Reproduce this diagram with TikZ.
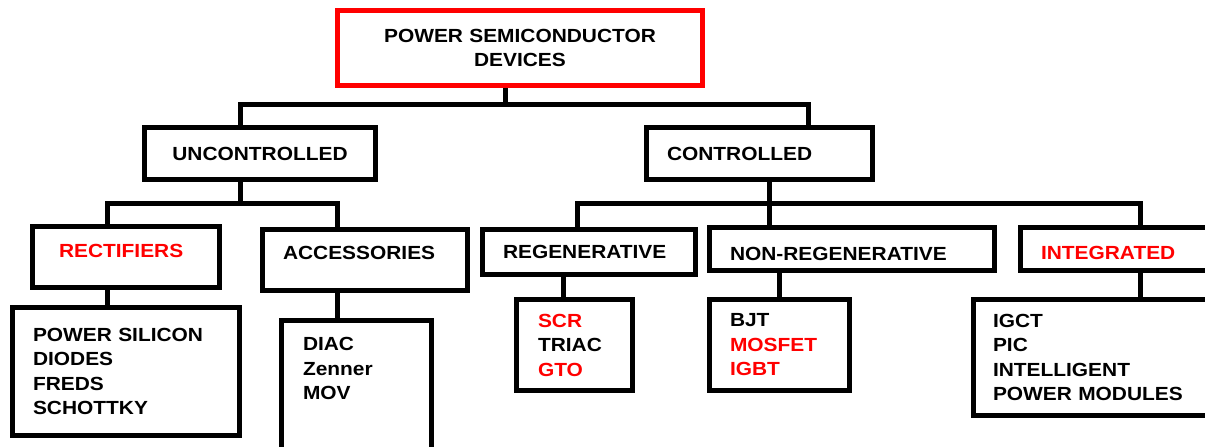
\documentclass[tikz,border=0pt]{standalone}
\usepackage{fontspec}
\setmainfont{Liberation Sans}[FakeStretch=1.1]
\usepackage{tikz}
\usetikzlibrary{calc}
\definecolor{devred}{HTML}{FF0000}

\begin{document}
\begin{tikzpicture}[x=1pt,y=-1pt,
  font=\fontsize{19pt}{24.5pt}\selectfont\bfseries,
  box/.style={draw, line width=5pt, inner ysep=0pt, align=left},
  link/.style={line width=5pt}]
\useasboundingbox (0,0) rectangle (1205,447);
\clip (0,0) rectangle (1205,447);
\node[box, draw=devred, align=center, minimum height=75pt, text width=345pt, inner xsep=10pt] (psd) at (520,48) {POWER SEMICONDUCTOR\\DEVICES};
\node[box, align=center, minimum height=52pt, text width=211pt, inner xsep=10pt] (unc) at (260,153.5) {UNCONTROLLED};
\node[box, minimum height=52pt, text width=185pt, inner xsep=20.5pt] (ctl) at (759.5,153.5) {CONTROLLED};
\node[box, minimum height=61pt, text width=134pt, inner xsep=26.5pt, text=devred, text depth=12pt] (rect) at (126,257) {RECTIFIERS};
\node[box, minimum height=61pt, text width=164pt, inner xsep=20.5pt, text depth=14pt] (acc) at (365,260) {ACCESSORIES};
\node[box, minimum height=45pt, text width=172pt, inner xsep=20.5pt] (reg) at (589,252) {REGENERATIVE};
\node[box, minimum height=43pt, text width=244pt, inner xsep=20.5pt, text height=24pt] (nonreg) at (852,249) {NON-REGENERATIVE};
\node[box, minimum height=43pt, text width=179pt, inner xsep=20.5pt, text=devred, text height=22pt] (integ) at (1130.5,249) {INTEGRATED};
\node[box, minimum height=128pt, text width=186pt, inner xsep=20.5pt] (psil) at (126,371.5) {POWER SILICON\\DIODES\\FREDS\\SCHOTTKY};
\node[box, minimum height=137pt, text width=107pt, inner xsep=21.5pt, text depth=90pt] (diac) at (356.5,389) {DIAC\\Zenner\\MOV};
\node[box, minimum height=91pt, text width=73pt, inner xsep=21.5pt] (scr) at (574.5,345) {\textcolor{devred}{SCR}\\TRIAC\\\textcolor{devred}{GTO}};
\node[box, minimum height=91pt, text width=99pt, inner xsep=20.5pt] (bjt) at (779.5,345) {BJT\\\textcolor{devred}{MOSFET}\\\textcolor{devred}{IGBT}};
\node[box, minimum height=116pt, text width=225pt, inner xsep=19.5pt] (igct) at (1105.5,357.5) {IGCT\\PIC\\INTELLIGENT\\POWER MODULES};
\coordinate (topbar) at (505,104);
\coordinate (ubar) at (240,203);
\coordinate (cbar) at (769,203);
\draw[link] ([xshift=-15pt]psd.south) -- (topbar);
\draw[link] ([xshift=-20pt]unc.north) |- (topbar) -| ([xshift=48.5pt]ctl.north);
\draw[link] ([xshift=-20pt]unc.south) -- (ubar);
\draw[link] ([xshift=-19pt]rect.north) |- (ubar) -| ([xshift=-28pt]acc.north);
\draw[link] ([xshift=9.5pt]ctl.south) -- ([xshift=-83pt]nonreg.north);
\draw[link] ([xshift=-12pt]reg.north) |- (cbar) -| ([xshift=9.5pt]integ.north);
\draw[link] ([xshift=-19pt]rect.south) -- ([xshift=-19pt]psil.north);
\draw[link] ([xshift=-28pt]acc.south) -- ([xshift=-19.5pt]diac.north);
\draw[link] ([xshift=-26pt]reg.south) -- ([xshift=-11.5pt]scr.north);
\draw[link] ([xshift=-73pt]nonreg.south) -- ([xshift=-0.5pt]bjt.north);
\draw[link] ([xshift=9.5pt]integ.south) -- ([xshift=34.5pt]igct.north);
\end{tikzpicture}
\end{document}
